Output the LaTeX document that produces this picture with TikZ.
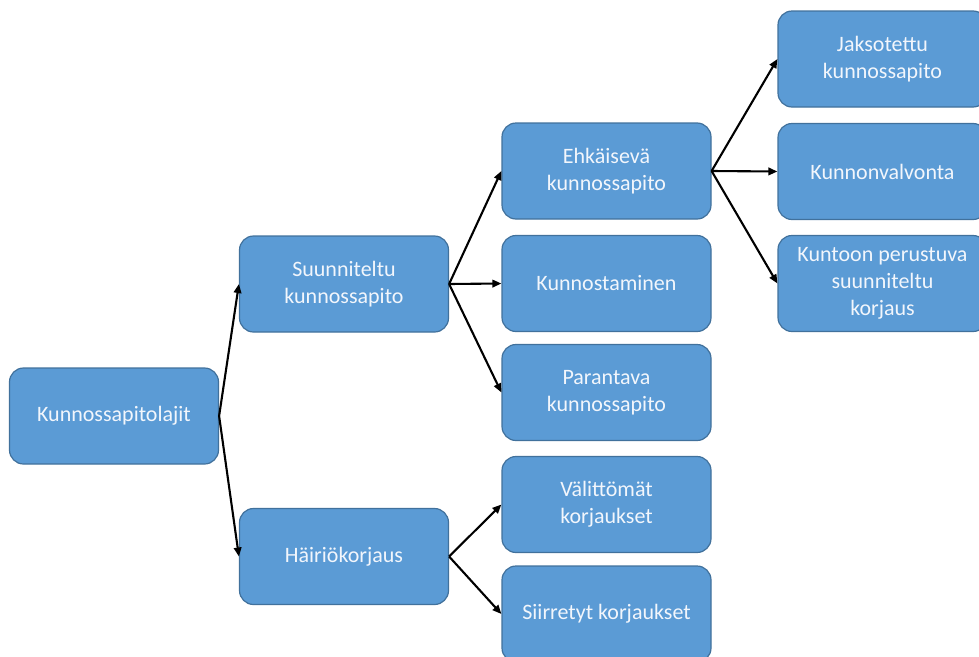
\documentclass[tikz,border=0pt]{standalone}
\usepackage{fontspec}
\setmainfont{Carlito}
\usetikzlibrary{arrows.meta}
\definecolor{boxfill}{HTML}{5B9BD5}
\definecolor{boxline}{HTML}{41719C}
\definecolor{boxtext}{HTML}{F2F6FC}
\begin{document}
\begin{tikzpicture}[x=1pt,y=-1pt,
  box/.style={draw=boxline, line width=1.2pt, fill=boxfill, rounded corners=14pt,
    minimum width=209pt, minimum height=96pt, text=boxtext, align=center,
    font=\fontsize{22}{27}\selectfont, inner sep=0pt},
  arr/.style={-{Triangle[length=9pt,width=7.5pt]}, line width=2.1pt, black}]
\useasboundingbox (0,0) rectangle (979,656);
\clip (0,0) rectangle (979,656);
\node[box] (root) at (114,416) {Kunnossapitolajit};
\node[box] (suun) at (344,284) {Suunniteltu\\kunnossapito};
\node[box] (hai) at (344,556.5) {Häiriökorjaus};
\node[box] (ehk) at (606.5,171) {Ehkäisevä\\kunnossapito};
\node[box] (kun) at (606.5,283.5) {Kunnostaminen};
\node[box] (par) at (606.5,392.5) {Parantava\\kunnossapito};
\node[box] (val) at (606.5,504.5) {Välittömät\\korjaukset};
\node[box] (sii) at (606.5,614) {Siirretyt korjaukset};
\node[box] (jak) at (882.5,59) {Jaksotettu\\kunnossapito};
\node[box] (kvv) at (882.5,171.5) {Kunnonvalvonta};
\node[box] (kpk) at (882.5,283.5) {Kuntoon perustuva\\suunniteltu\\korjaus};
\draw[arr] (root.east) -- (suun.west);
\draw[arr] (root.east) -- (hai.west);
\draw[arr] (suun.east) -- (ehk.west);
\draw[arr] (suun.east) -- (kun.west);
\draw[arr] (suun.east) -- (par.west);
\draw[arr] (hai.east) -- (val.west);
\draw[arr] (hai.east) -- (sii.west);
\draw[arr] (ehk.east) -- (jak.west);
\draw[arr] (ehk.east) -- (kvv.west);
\draw[arr] (ehk.east) -- (kpk.west);
\end{tikzpicture}
\end{document}
